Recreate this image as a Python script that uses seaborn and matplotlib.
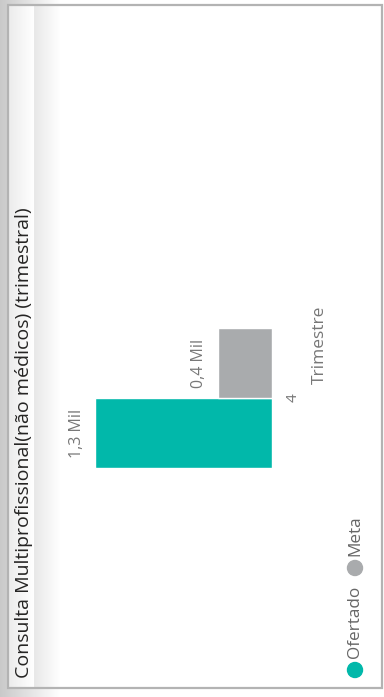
import numpy as np
import pandas as pd
import matplotlib
matplotlib.use("Agg")
import matplotlib.pyplot as plt
import seaborn as sns
from matplotlib.patches import Rectangle, Circle
from matplotlib.colors import LinearSegmentedColormap

# ---- data ----
categories = ["4"]
series = ["Ofertado", "Meta"]
values = [1300, 400]
colors = ["#01B8AA", "#A9ABAD"]
title = "Consulta Multiprofissional(não médicos) (trimestral)"
axis_title = "Trimestre"

sns.set_theme(style="white")
plt.rcParams["font.family"] = ["Open Sans", "DejaVu Sans"]

df = pd.DataFrame({"Trimestre": categories * len(series),
                   "Série": series,
                   "Valor": values})

W, H = 384, 697
fig = plt.figure(figsize=(W / 100, H / 100), dpi=100)
fig.patch.set_facecolor("white")

# background overlay in pixel coords
bg = fig.add_axes([0, 0, 1, 1], zorder=0)
bg.set_xlim(0, W)
bg.set_ylim(H, 0)
bg.axis("off")
grad = np.linspace(0, 1, 256)[None, :]
cm_out = LinearSegmentedColormap.from_list("o", ["#c9c9c9", "#ffffff"])
bg.imshow(grad, extent=(0, 60, H, 0), cmap=cm_out, aspect="auto", zorder=0)
cm_in = LinearSegmentedColormap.from_list("i", ["#ececec", "#ffffff"])
bg.imshow(grad, extent=(9, 34, 687, 5), cmap=cm_in, aspect="auto", zorder=1)
bg.add_patch(Rectangle((8, 5), 374, 683, fill=False, edgecolor="#b3b3b3", lw=1.6, zorder=2))

def px(x, y):
    return x / W, 1 - y / H

# main axes
ax_l, ax_r, ax_t, ax_b = 40, 272, 228, 568
ax = fig.add_axes([ax_l / W, 1 - ax_b / H, (ax_r - ax_l) / W, (ax_b - ax_t) / H], zorder=2)
ax.set_facecolor("none")
sns.barplot(data=df, x="Valor", y="Trimestre", hue="Série", hue_order=series,
            palette=colors, orient="h", width=0.8, saturation=1, legend=False, ax=ax)
scale = 0.136  # px per unit
ax.set_xlim((ax_r - ax_l) / scale, 0)
half = (ax_b - ax_t) / 2 / 175.0
ax.set_ylim(-half, half)
for s in ax.spines.values():
    s.set_visible(False)
ax.xaxis.set_visible(False)
ax.yaxis.tick_right()
ax.tick_params(axis="y", length=0, pad=10, labelrotation=90, labelcolor="#777777", labelsize=11)
for t in ax.get_yticklabels():
    t.set_va("center")
ax.set_ylabel(axis_title, rotation=90, color="#777777", fontsize=12.5)
ax.yaxis.set_label_position("right")
ax.yaxis.set_label_coords((320 - ax_l) / (ax_r - ax_l), (ax_b - 345) / (ax_b - ax_t))
ax.yaxis.label.set_va("center")
ax.yaxis.label.set_ha("center")

for cont, v in zip(ax.containers, values):
    lab = f"{v / 1000:.1f} Mil".replace(".", ",")
    ax.bar_label(cont, labels=[lab], padding=7.5, rotation=90, color="#777777",
                 fontsize=11.5)

# title
fig.text(*px(24, 678), title, rotation=90, ha="center", va="bottom",
         fontsize=14, color="#252423")

# legend
for (name, col, cy, ty) in [("Ofertado", colors[0], 670, 658), ("Meta", colors[1], 568, 556)]:
    bg.add_patch(Circle((355, cy), 7.5, color=col, zorder=3))
    fig.text(*px(355, ty), name, rotation=90, ha="center", va="bottom",
             fontsize=12.3, color="#666666")

fig.savefig("out.png", dpi=100)
